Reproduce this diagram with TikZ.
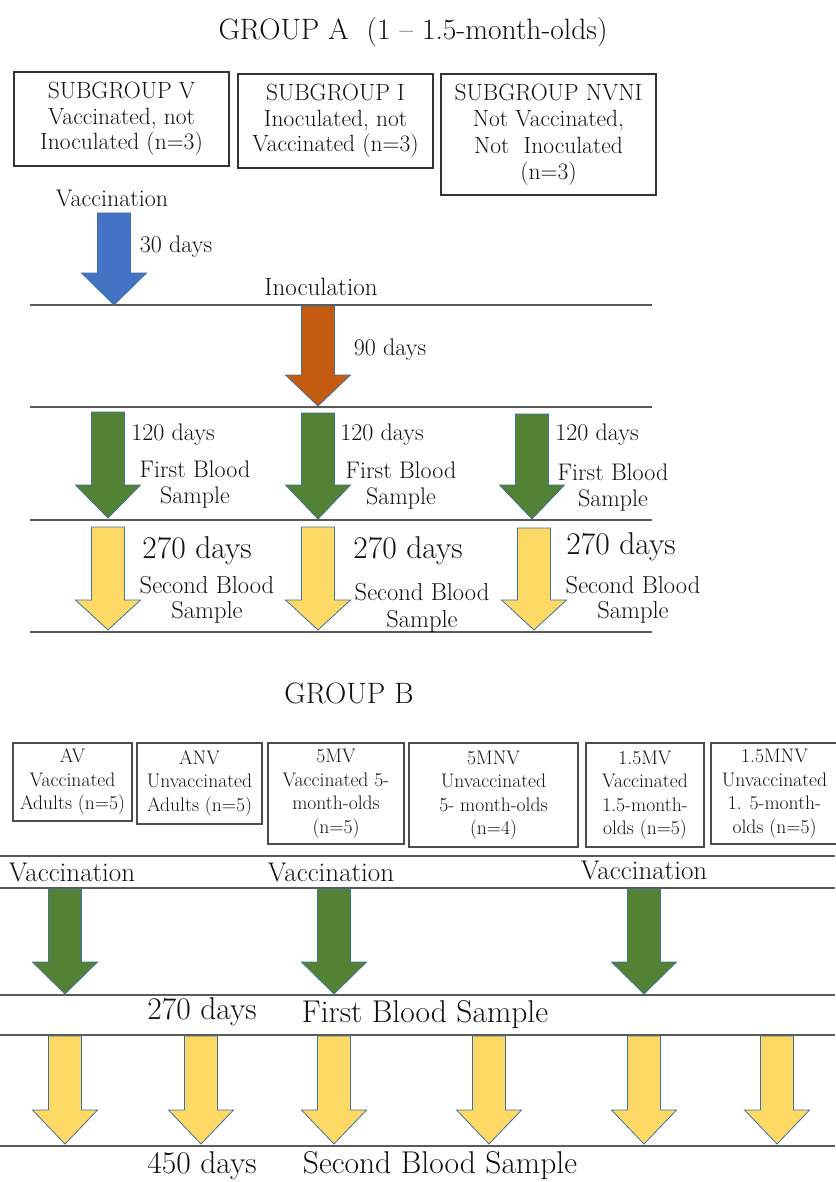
\documentclass[tikz,border=0pt]{standalone}
\definecolor{cblue}{HTML}{4472C4}
\definecolor{corange}{HTML}{C55A11}
\definecolor{cgreen}{HTML}{548235}
\definecolor{cyellow}{HTML}{FFD966}
\definecolor{cedge}{HTML}{41719C}
\definecolor{cline}{HTML}{5A5A5A}
\definecolor{ctext}{HTML}{111111}
\newcommand{\fs}[2]{\fontsize{#1}{#2}\selectfont}
% x, top, head start, tip, colour
\newcommand{\dnarrow}[5]{%
  \filldraw[arrowshape, fill=#5] (#1-16.5,#2) -- (#1+16.5,#2) -- (#1+16.5,#3) -- (#1+32.5,#3) -- (#1,#4) -- (#1-32.5,#3) -- (#1-16.5,#3) -- cycle;}
\begin{document}
\begin{tikzpicture}[x=1pt,y=-1pt,
  arrowshape/.style={draw=cedge, line width=0.8pt, line join=miter},
  sep/.style={draw=cline, line width=1.8pt},
  boxa/.style={draw=black!80, line width=1.2pt, align=center, inner sep=0pt, text=ctext, font=\fs{23.5}{25.5}},
  boxb/.style={draw=black!70, line width=1.5pt, align=center, inner sep=0pt, text=ctext, font=\fs{19.6}{23.5}},
  lbl/.style={inner sep=0pt, align=center, text=ctext, font=\fs{24}{26}},
  mid/.style={inner sep=0pt, align=center, text=ctext, font=\fs{27}{30}},
  big/.style={inner sep=0pt, align=center, text=ctext, font=\fs{31.5}{34}},
  ttl/.style={inner sep=0pt, align=center, text=ctext, font=\fs{29.5}{32}}
]
\useasboundingbox (0,0) rectangle (835,1182);
\fill[white] (0,0) rectangle (835,1182);

% ---------------- GROUP A ----------------
\node[ttl] (titleA) at (413,32) {GROUP A\ \ (1 -- 1.5-month-olds)};

\node[boxa, minimum width=215, minimum height=94] (boxV) at (121.5,119)
  {SUBGROUP V\\Vaccinated, not\\Inoculated (n=3)};
\node[boxa, minimum width=195, minimum height=94] (boxI) at (335.5,121)
  {SUBGROUP I\\Inoculated, not\\Vaccinated (n=3)};
\node[boxa, minimum width=215, minimum height=121, font=\fs{23.5}{26.5}] (boxN) at (548.5,134.5)
  {SUBGROUP NVNI\\Not Vaccinated,\\Not\ \ Inoculated\\(n=3)};

\node[lbl] (vacA) at (112,198) {Vaccination};
\node[lbl] (d30) at (176,247) {30 days};
\node[lbl, font=\fs{25}{28}] (inoc) at (321,287) {Inoculation};
\node[lbl] (d90) at (390,350) {90 days};

\draw[sep] (30,305) -- (652,305);
\draw[sep] (30,407) -- (652,407);
\draw[sep] (30,520) -- (652,520);
\draw[sep] (30,632) -- (652,632);

\dnarrow{114}{213}{273}{305}{cblue}
\dnarrow{318}{306}{375}{406}{corange}

\dnarrow{108}{412}{485}{518}{cgreen}
\dnarrow{318}{413}{485}{519}{cgreen}
\dnarrow{532}{414}{485}{519}{cgreen}

\dnarrow{108}{527}{600}{630}{cyellow}
\dnarrow{318}{527}{600}{630}{cyellow}
\dnarrow{534}{528}{600}{630}{cyellow}

\node[lbl] (g1d) at (173,435) {120 days};
\node[lbl] (g2d) at (382,435) {120 days};
\node[lbl] (g3d) at (597,435) {120 days};
\node[lbl] (g1s) at (195,485) {First Blood\\Sample};
\node[lbl] (g2s) at (401,486) {First Blood\\Sample};
\node[lbl] (g3s) at (613,488) {First Blood\\Sample};

\node[big] (y1d) at (197,551) {270 days};
\node[big] (y2d) at (408,551) {270 days};
\node[big] (y3d) at (621,547) {270 days};
\node[lbl, font=\fs{24.5}{25.5}] (y1s) at (207,600) {Second Blood\\Sample};
\node[lbl, font=\fs{24.5}{27}] (y2s) at (422,608) {Second Blood\\Sample};
\node[lbl, font=\fs{24.5}{25.5}] (y3s) at (633,600) {Second Blood\\Sample};

% ---------------- GROUP B ----------------
\node[ttl] (titleB) at (349,693) {GROUP B};

\node[boxb, minimum width=119, minimum height=78] (bAV) at (72.5,782)
  {AV\\Vaccinated\\Adults (n=5)};
\node[boxb, minimum width=125, minimum height=81] (bANV) at (199.5,783.5)
  {ANV\\Unvaccinated\\Adults (n=5)};
\node[boxb, minimum width=136, minimum height=101] (b5MV) at (336,793.5)
  {5MV\\Vaccinated 5-\\month-olds\\(n=5)};
\node[boxb, minimum width=169, minimum height=104] (b5MNV) at (493.5,795)
  {5MNV\\Unvaccinated\\5- month-olds\\(n=4)};
\node[boxb, minimum width=118, minimum height=104] (b15MV) at (645,795)
  {1.5MV\\Vaccinated\\1.5-month-\\olds (n=5)};
\node[boxb, minimum width=127, minimum height=101] (b15MNV) at (774.5,793.5)
  {1.5MNV\\Unvaccinated\\1. 5-month-\\olds (n=5)};

\draw[sep] (0,856) -- (835,856);
\draw[sep] (0,888) -- (835,888);
\draw[sep] (0,995) -- (835,995);
\draw[sep] (0,1035) -- (835,1035);
\draw[sep] (0,1146) -- (835,1146);

\node[mid] (vB1) at (72,872) {Vaccination};
\node[mid] (vB2) at (331,872) {Vaccination};
\node[mid] (vB3) at (644,870) {Vaccination};

\dnarrow{65}{889}{962}{994}{cgreen}
\dnarrow{334}{889}{962}{994}{cgreen}
\dnarrow{644}{889}{962}{994}{cgreen}

\dnarrow{65}{1036}{1110}{1144}{cyellow}
\dnarrow{201}{1036}{1110}{1144}{cyellow}
\dnarrow{334}{1036}{1110}{1144}{cyellow}
\dnarrow{489}{1036}{1110}{1144}{cyellow}
\dnarrow{644}{1036}{1110}{1144}{cyellow}
\dnarrow{777}{1036}{1110}{1144}{cyellow}

\node[big] (d270B) at (202,1012) {270 days};
\node[big] (fbsB) at (425,1015) {First Blood Sample};
\node[big] (d450B) at (202,1166) {450 days};
\node[big] (sbsB) at (440,1166) {Second Blood Sample};
\end{tikzpicture}
\end{document}
